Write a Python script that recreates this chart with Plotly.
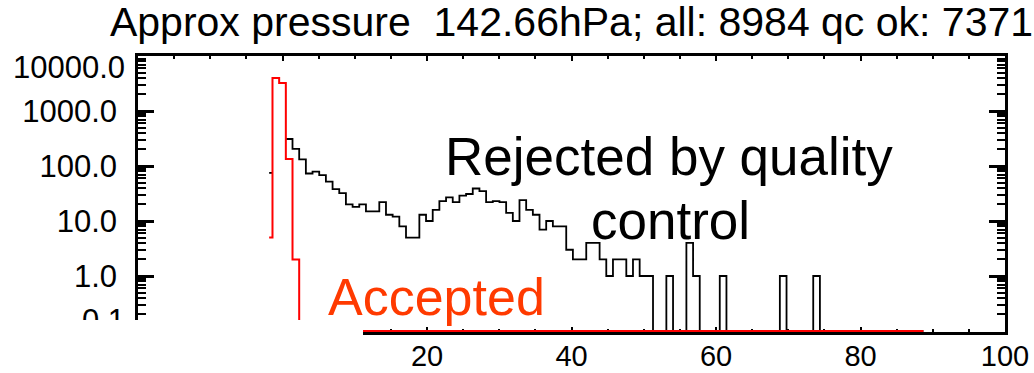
import math
import plotly.graph_objects as go

# ---------------- data ----------------
BIN_WIDTH = 0.924
bin_index = list(range(-2, 97))

accepted_counts = [5, 4000, 3230, 134, 2] + [0] * 94

rejected_counts = (
    [75, None, None]
    + [310, 204, 132, 73, 79, 68, 52, 38, 32, 20,
       18, 20, 15, 15, 22, 13, 12, 8, 5, 5,
       13, 10, 16, 23, 27, 22, 29, 31, 39, 35,
       22, 23, 22, 14, 10, 24, 16, 13, 7, 10,
       8, 8, 3, 2, 2, 4, 4, 2, 1, 2,
       2, 1, 2, 1, 1]
    + [0, 0, 1, 0, 0, 4, 1, 0, 0, 0, 1]
    + [0] * 8 + [1] + [0] * 4 + [1] + [0] * 16
)

x_tick_vals = [-20, 0, 20, 40, 60, 80, 100]
x_tick_text = ["", "", "20", "40", "60", "80", "100"]
y_tick_vals = [0.1, 1, 10, 100, 1000, 10000]
y_tick_text = ["0.1", "1.0", "10.0", "100.0", "1000.0", "10000.0"]

TITLE = "Approx pressure  142.66hPa; all: 8984 qc ok: 7371"

Y_FLOOR = 0.1  # zero counts are drawn on the lower axis
X_RANGE = [-20, 100]
Y_RANGE = [math.log10(Y_FLOOR) - 0.018, 4.0]

centers = [i * BIN_WIDTH for i in bin_index]


def idl_steps(xc, counts, floor):
    """Histogram-mode steps (like IDL psym=10): half width at the ends,
    gaps where there is no value, zeros drawn at the floor."""
    vals = [None if c is None else (c if c > 0 else floor) for c in counts]
    n = len(xc)
    xs, ys = [], []
    prev_ok = False
    for i in range(n):
        v = vals[i]
        if v is None:
            prev_ok = False
            continue
        left = xc[i] if i == 0 else 0.5 * (xc[i - 1] + xc[i])
        right = xc[i] if i == n - 1 else 0.5 * (xc[i] + xc[i + 1])
        if not prev_ok and xs:
            xs.append(None)
            ys.append(None)
        xs += [left, right]
        ys += [v, v]
        prev_ok = True
    return xs, ys


rx, ry = idl_steps(centers, rejected_counts, Y_FLOOR)
ax_, ay_ = idl_steps(centers, accepted_counts, Y_FLOOR)

FONT = "Liberation Sans, Arial, Helvetica, sans-serif"
YFONT = 31

fig = go.Figure()
fig.add_trace(go.Scatter(x=rx, y=ry, mode="lines", name="Rejected",
                         line=dict(color="black", width=1.8),
                         connectgaps=False, hoverinfo="skip"))
fig.add_trace(go.Scatter(x=ax_, y=ay_, mode="lines", name="Accepted",
                         line=dict(color="#ff0000", width=2),
                         connectgaps=False, hoverinfo="skip"))
# empty traces so the two label-only overlay axes are drawn
fig.add_trace(go.Scatter(x=[], y=[], yaxis="y2", hoverinfo="skip"))
fig.add_trace(go.Scatter(x=[], y=[], yaxis="y3", hoverinfo="skip"))

minor_y = [m * 10 ** e for e in range(-1, 4) for m in range(2, 10)]

label_axis = dict(
    type="log", range=Y_RANGE, overlaying="y", side="left", anchor="x",
    showgrid=False, zeroline=False, showline=False, ticks="",
    tickmode="array", tickfont=dict(size=YFONT, family=FONT),
    ticklabelstandoff=12, automargin=False,
)

fig.update_layout(
    width=1034, height=373,
    margin=dict(l=138, r=29, t=56, b=41, autoexpand=False),
    paper_bgcolor="white", plot_bgcolor="white",
    showlegend=False,
    font=dict(family=FONT, color="black", size=30),
    title=dict(text=TITLE, x=0.5, xref="paper", xanchor="center",
               y=1 - 22 / 373, yref="container", yanchor="middle",
               font=dict(family=FONT, size=41, color="black")),
    xaxis=dict(
        range=X_RANGE, showgrid=False, zeroline=False,
        showline=True, linecolor="black", linewidth=2.5, mirror="ticks",
        ticks="inside", ticklen=5, tickwidth=2, tickcolor="black",
        tickmode="array", tickvals=x_tick_vals, ticktext=x_tick_text,
        minor=dict(ticks="inside", ticklen=3, tickwidth=2, tickcolor="black",
                   dtick=5, tick0=0, showgrid=False),
        tickfont=dict(size=29, family=FONT), ticklabelstandoff=-4,
        layer="below traces", automargin=False,
    ),
    yaxis=dict(
        type="log", range=Y_RANGE, showgrid=False, zeroline=False,
        showline=True, linecolor="black", linewidth=2.5, mirror="ticks",
        ticks="inside", ticklen=16, tickwidth=2.5, tickcolor="black",
        tickmode="array", tickvals=y_tick_vals,
        ticktext=[""] + y_tick_text[1:-1] + [""],
        minor=dict(ticks="inside", ticklen=8, tickwidth=2, tickcolor="black",
                   tickvals=minor_y, showgrid=False),
        tickfont=dict(size=YFONT, family=FONT), ticklabelstandoff=12,
        layer="below traces", automargin=False,
    ),
    yaxis2=dict(label_axis, tickvals=[y_tick_vals[-1]],
                ticktext=[y_tick_text[-1]], ticklabelshift=11),
    yaxis3=dict(label_axis, tickvals=[y_tick_vals[0]],
                ticktext=[y_tick_text[0]], ticklabelshift=-11),
)

# plot area in pixels: x 138..1005, y 56..332
PW, PH = 867.0, 276.0


def px_x(p):
    return (p - 138) / PW


def px_y(p):
    return (332 - p) / PH


fig.add_annotation(text="Rejected by quality", xref="paper", yref="paper",
                   x=px_x(669), y=px_y(156), xanchor="center", yanchor="middle",
                   showarrow=False, font=dict(size=53, family=FONT, color="black"))
fig.add_annotation(text="control", xref="paper", yref="paper",
                   x=px_x(670), y=px_y(220), xanchor="center", yanchor="middle",
                   showarrow=False, font=dict(size=53, family=FONT, color="black"))
fig.add_annotation(text="Accepted", xref="paper", yref="paper",
                   x=px_x(326), y=px_y(297), xanchor="left", yanchor="middle",
                   showarrow=False, font=dict(size=52, family=FONT, color="#ff3a00"))

# the lower-left corner of the picture is blank in the reference
fig.add_shape(type="rect", xref="paper", yref="paper",
              x0=px_x(-10), x1=px_x(363), y0=px_y(400), y1=px_y(320),
              fillcolor="white", line=dict(width=0), layer="above")

fig.write_html("out.html")
